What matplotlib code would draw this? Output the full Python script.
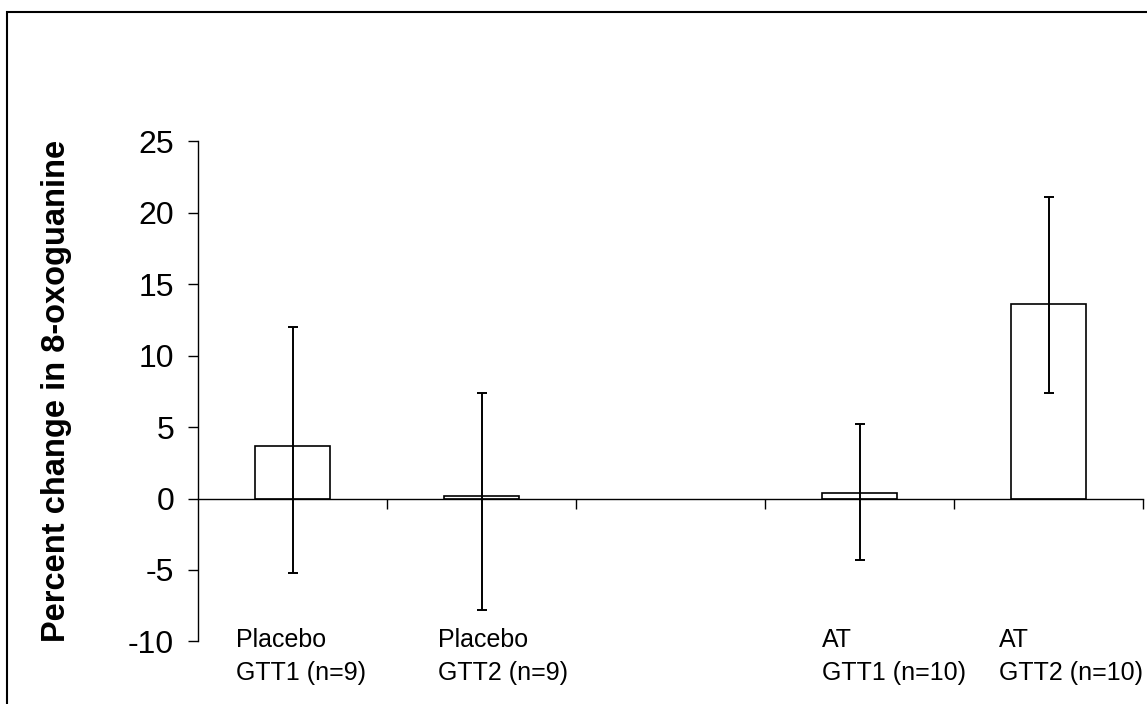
import matplotlib
matplotlib.use("Agg")
import matplotlib.pyplot as plt
from matplotlib.patches import Rectangle

plt.rcParams['font.family'] = ['Liberation Sans', 'DejaVu Sans']

# ---- data ----
categories = ["Placebo\nGTT1 (n=9)", "Placebo\nGTT2 (n=9)", "AT\nGTT1 (n=10)", "AT\nGTT2 (n=10)"]
means = [3.7, 0.2, 0.4, 13.6]
err_plus = [8.3, 7.2, 4.8, 7.5]
err_minus = [8.9, 8.0, 4.7, 6.2]
yticks = [-10, -5, 0, 5, 10, 15, 20, 25]
ylabel = "Percent change in 8-oxoguanine"

# ---- layout ----
slots = [0, 1, 3, 4]          # third slot left empty as in the original
n_slots = 5
label_offsets = [0.20, 1.27, 3.30, 4.24]

W, H = 1147, 704
fig = plt.figure(figsize=(W / 100, H / 100), dpi=100)
ax = fig.add_axes([198 / W, 1 - 641.4 / H, (1143 - 198) / W, (641.4 - 141.3) / H])

xs = [s + 0.5 for s in slots]
ax.bar(xs, means, width=0.40, color='white', edgecolor='black', linewidth=1.2, zorder=2)
ax.errorbar(xs, means, yerr=[err_minus, err_plus], fmt='none', ecolor='black',
            elinewidth=1.4, capsize=3.3, capthick=1.4, zorder=3)

ax.set_xlim(0, n_slots)
ax.set_ylim(-10, 25)
ax.set_yticks(yticks)
ax.set_yticklabels([str(t) for t in yticks], fontsize=23)
ax.tick_params(axis='y', direction='out', length=7.2, width=1.0, pad=10, colors='black')
ax.set_xticks(range(1, n_slots + 1))
ax.set_xticklabels([])
ax.tick_params(axis='x', direction='out', length=7.2, width=1.0)

for side in ['top', 'right']:
    ax.spines[side].set_visible(False)
ax.spines['bottom'].set_position(('data', 0))
ax.spines['bottom'].set_linewidth(1.0)
ax.spines['left'].set_linewidth(1.0)

for lx, lab in zip(label_offsets, categories):
    ax.text(lx, -12.7, lab, fontsize=18, ha='left', va='baseline', linespacing=1.45,
            clip_on=False)

fig.text(56.7 / W, 1 - 391 / H, ylabel, rotation=90, fontsize=23.5, fontweight='bold',
         ha='center', va='center')

# outer frame (right & bottom edges fall outside the canvas as in the reference)
fig.patches.append(Rectangle((7.5 / W, -0.1), 1.2, 1 - 12.3 / H + 0.1,
                             transform=fig.transFigure, fill=False,
                             edgecolor='black', linewidth=1.5))

fig.savefig("out.png", dpi=100)
